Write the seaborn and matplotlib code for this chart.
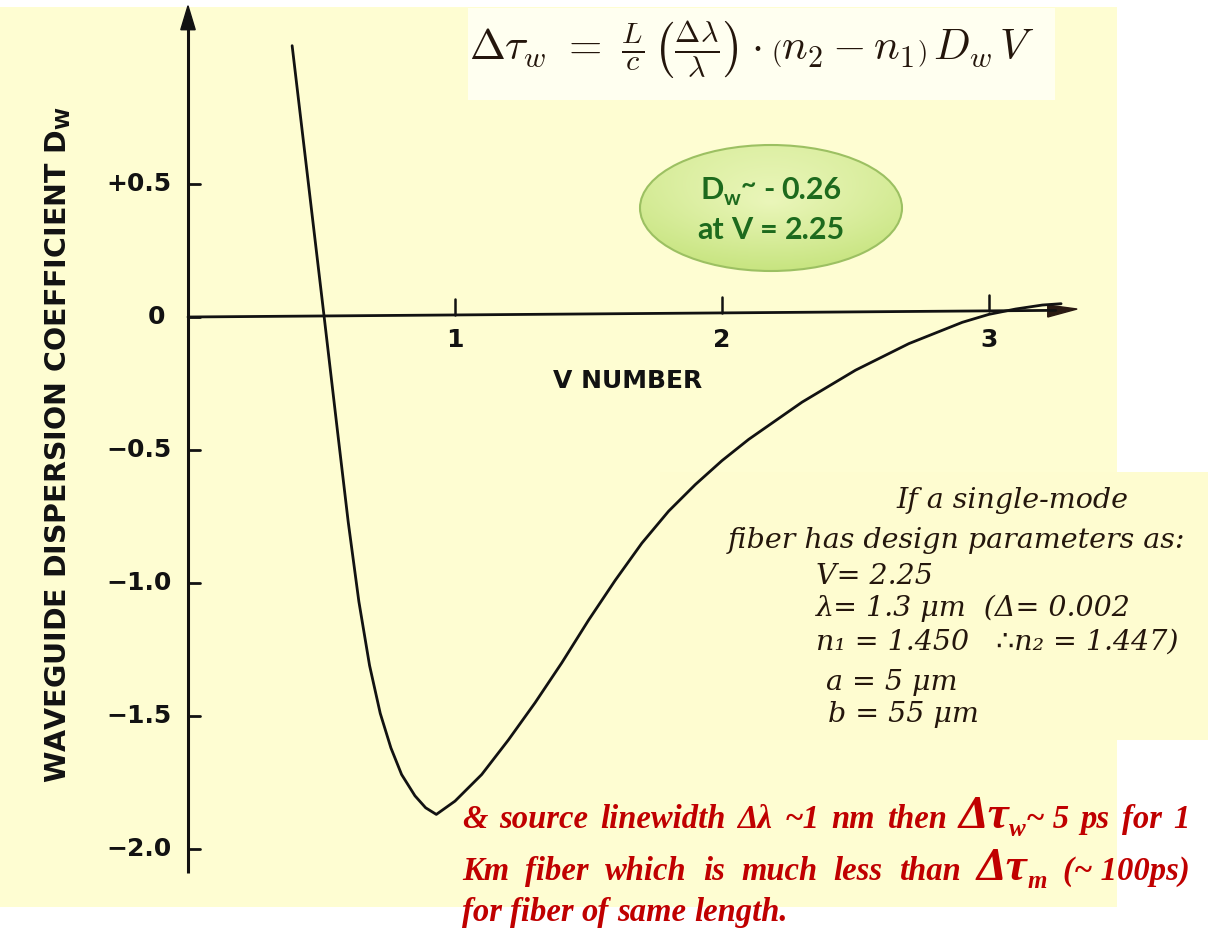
import numpy as np
import matplotlib
matplotlib.use("Agg")
import matplotlib.pyplot as plt
import matplotlib.transforms as mtransforms
from matplotlib.patches import Rectangle, Ellipse, Polygon
import seaborn as sns

# Waveguide dispersion coefficient D_w versus normalized frequency V
v_number = [0.39, 0.45, 0.51, 0.56, 0.60, 0.64, 0.68, 0.72, 0.76, 0.80, 0.85, 0.89, 0.93,
            1.00, 1.10, 1.20, 1.30, 1.40, 1.50, 1.60, 1.70, 1.80, 1.90, 2.00,
            2.10, 2.20, 2.30, 2.40, 2.50, 2.60, 2.70, 2.80, 2.90, 3.00, 3.10, 3.20, 3.27]
d_w = [1.02, 0.51, 0.00, -0.43, -0.77, -1.07, -1.31, -1.49, -1.62, -1.72, -1.80, -1.845, -1.87,
       -1.82, -1.72, -1.59, -1.45, -1.30, -1.14, -0.99, -0.85, -0.73, -0.63, -0.54,
       -0.46, -0.39, -0.32, -0.26, -0.20, -0.15, -0.10, -0.06, -0.02, 0.01, 0.03, 0.045, 0.05]

y_ticks = [0.5, 0.0, -0.5, -1.0, -1.5, -2.0]
y_tick_labels = ["+0.5", "0", "\u22120.5", "\u22121.0", "\u22121.5", "\u22122.0"]
x_ticks = [1, 2, 3]
x_tick_labels = ["1", "2", "3"]

note_lines = ["If a single-mode",
              "fiber has design parameters as:",
              "V= 2.25",
              "\u03bb= 1.3 \u03bcm  (\u0394= 0.002",
              "n\u2081 = 1.450   \u2234n\u2082 = 1.447)",
              "a = 5 \u03bcm",
              "b = 55 \u03bcm"]

W, H = 1208, 934
sns.set_theme(style="white")
plt.rcParams["font.family"] = ["DejaVu Sans"]

fig = plt.figure(figsize=(W / 100, H / 100), dpi=100, facecolor="white")

# V=0 at x=188 px, 1 unit = 267 px; D=0 at y=317 px, 1 unit = 266 px
x0, sx = 188.0, 267.0
y0, sy = 317.0, 266.0
ax = fig.add_axes([0, 0, 1, 1])
ax.set_xlim((0 - x0) / sx, (W - x0) / sx)
ax.set_ylim((y0 - H) / sy, y0 / sy)
ax.set_axis_off()
ax.patch.set_alpha(0)

# pixel-space transform (origin top-left)
T = mtransforms.Affine2D().scale(1 / W, -1 / H).translate(0, 1) + fig.transFigure

paper = "#fefdd2"
fig.patches.append(Rectangle((0, 7), 1117, 900, transform=T, facecolor=paper,
                             edgecolor="none", zorder=-10))
fig.patches.append(Rectangle((660, 472), 548, 268, transform=T, facecolor="#fefcd0",
                             edgecolor="none", zorder=-9))
fig.patches.append(Rectangle((468, 8), 587, 92, transform=T, facecolor="#fffff0",
                             edgecolor="none", zorder=-8))

ink = "#121212"
# hand-drawn style axes with arrow heads
ax.plot([0, 0], [-2.09, 1.10], color=ink, lw=2.2, solid_capstyle="butt")
ax.add_patch(Polygon([[-0.027, 1.08], [0.027, 1.08], [0.0, 1.17]], closed=True,
                     facecolor=ink, edgecolor=ink))
ax.plot([0, 3.25], [0, 0.025], color=ink, lw=2.0)
ax.add_patch(Polygon([[3.22, 0.045], [3.33, 0.03], [3.22, 0.0]], closed=True,
                     facecolor="#2a1a12", edgecolor="#2a1a12"))
for yt in y_ticks:
    ax.plot([0, 0.045], [yt, yt], color=ink, lw=2.0)
for xt in x_ticks:
    ax.plot([xt, xt], [0.008 * xt, 0.008 * xt + 0.06], color=ink, lw=1.8)

for yt, lab in zip(y_ticks, y_tick_labels):
    xr = -0.06 if lab != "0" else -0.085
    ax.text(xr, yt, lab, ha="right", va="center", fontsize=18, fontweight="bold", color=ink)
for xt, lab in zip(x_ticks, x_tick_labels):
    ax.text(xt, -0.085, lab, ha="center", va="center", fontsize=18, fontweight="bold", color=ink)

ax.text(1.645, -0.24, "V NUMBER", ha="center", va="center", fontsize=18,
        fontweight="bold", color=ink)
ax.text(-0.487, -0.48, r"WAVEGUIDE DISPERSION COEFFICIENT D$_\mathbf{W}$", rotation=90,
        ha="center", va="center", fontsize=20.5, fontweight="bold", color=ink)

# the dispersion curve
sns.lineplot(x=v_number, y=d_w, sort=False, estimator=None, color=ink, lw=2.0, ax=ax)

# overlay in pixel coordinates for the annotations
pix = fig.add_axes([0, 0, 1, 1], zorder=3)
pix.set_xlim(0, W)
pix.set_ylim(H, 0)
pix.set_axis_off()
pix.patch.set_alpha(0)

fig.canvas.draw()
renderer = fig.canvas.get_renderer()


def width_px(t):
    return t.get_window_extent(renderer=renderer).width * W / fig.bbox.width


def pieces(x, y, items, props, align="left", target=None):
    """Draw groups of (text, size, dy) runs; groups separated by spaces,
    optionally centered or justified to a target width."""
    drawn = []
    widths = []
    for group in items:
        gtexts = []
        gw = 0.0
        for txt, size, dy in group:
            t = pix.text(0, y + dy, txt, ha="left", va="baseline", fontsize=size, **props)
            gtexts.append((t, gw))
            gw += width_px(t)
        drawn.append(gtexts)
        widths.append(gw)
    fs0 = items[0][0][1]
    probe2 = pix.text(0, y, "a a", fontsize=fs0, **props)
    probe1 = pix.text(0, y, "a", fontsize=fs0, **props)
    sp = width_px(probe2) - 2 * width_px(probe1)
    probe2.remove()
    probe1.remove()
    gap = sp
    total = sum(widths) + gap * (len(widths) - 1)
    if target is not None and len(widths) > 1:
        gap = (target - sum(widths)) / (len(widths) - 1)
        total = target
    if align == "center":
        x -= total / 2
    for gtexts, gw in zip(drawn, widths):
        for t, off in gtexts:
            t.set_x(x + off)
        x += gw + gap


hand = "#24160c"
pix.text(752, 50,
         r"$\Delta\tau_w\ =\ \frac{L}{c}\,\left(\frac{\Delta\lambda}{\lambda}\right)\cdot\left(n_2-n_1\right)\,D_w\, V$",
         ha="center", va="center", fontsize=31, color=hand, math_fontfamily="cm")

# green ellipse with gradient fill
ell = Ellipse((771, 208), 262, 126, facecolor="none", edgecolor="#9cc062", lw=1.5, zorder=5)
pix.add_patch(ell)
gy, gx = np.mgrid[0:1:200j, 0:1:200j]
r = np.sqrt((gx - 0.5) ** 2 + (gy - 0.45) ** 2)
top = np.array([0.95, 0.98, 0.78])
low = np.array([0.75, 0.88, 0.45])
mix = np.clip(0.35 * gy + 0.9 * r, 0, 1)[..., None]
grad = top * (1 - mix) + low * mix
img = pix.imshow(grad, extent=(640, 902, 271, 145), zorder=4, interpolation="bilinear",
                 aspect="auto")
img.set_clip_path(Ellipse((771, 208), 262, 126, transform=pix.transData))
green = dict(color="#1d6a1d", family="Lato", fontweight="bold", zorder=6)
pieces(771, 199, [[("D", 22, 0), ("w", 15, 6), ("~", 19, -6)], [("-", 22, 0)], [("0.26", 22, 0)]],
       green, align="center")
pieces(771, 239, [[("at", 22, 0)], [("V", 22, 0)], [("=", 22, 0)], [("2.25", 22, 0)]],
       green, align="center")

# handwritten-style parameter notes
note_font = dict(fontsize=20.5, color=hand, family=["DejaVu Serif", "DejaVu Sans"], style="italic")
pix.text(1012, 500, note_lines[0], ha="center", va="center", **note_font)
pix.text(957, 540, note_lines[1], ha="center", va="center", **note_font)
pix.text(816, 577, note_lines[2], ha="left", va="center", **note_font)
pix.text(816, 608, note_lines[3], ha="left", va="center", **note_font)
pix.text(816, 642, note_lines[4], ha="left", va="center", **note_font)
pix.text(826, 683, note_lines[5], ha="left", va="center", **note_font)
pix.text(828, 715, note_lines[6], ha="left", va="center", **note_font)

# red remark, with enlarged delta-tau symbols
red = dict(color="#c00000", family="Liberation Serif", fontweight="bold", style="italic")
fs, big, sub = 23.5, 34, 18
line1 = [[("&", fs, 0)], [("source", fs, 0)], [("linewidth", fs, 0)], [("\u0394\u03bb", fs, 0)],
         [("~1", fs, 0)], [("nm", fs, 0)], [("then", fs, 0)],
         [("\u0394\u03c4", big, 0), ("w", sub, 8), ("~ 5", fs, 0)], [("ps", fs, 0)],
         [("for", fs, 0)], [("1", fs, 0)]]
line2 = [[("Km", fs, 0)], [("fiber", fs, 0)], [("which", fs, 0)], [("is", fs, 0)],
         [("much", fs, 0)], [("less", fs, 0)], [("than", fs, 0)],
         [("\u0394\u03c4", big, 0), ("m", sub, 8)], [("(~ 100ps)", fs, 0)]]
line3 = [[("for", fs, 0)], [("fiber", fs, 0)], [("of", fs, 0)], [("same", fs, 0)],
         [("length.", fs, 0)]]
pieces(462, 828, line1, red, target=728)
pieces(462, 880, line2, red, target=728)
pieces(462, 921, line3, red)

fig.savefig("out.png", dpi=100, facecolor="white")
